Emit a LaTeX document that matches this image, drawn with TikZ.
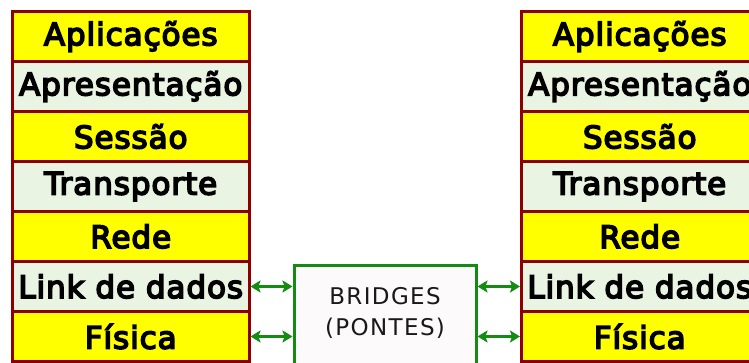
\documentclass[tikz,border=0pt]{standalone}
\usepackage{fontspec}
\setmainfont{DejaVu Sans}
\newfontfamily\layerfont{DejaVu Sans}[FakeBold=5,LetterSpace=3]
\usetikzlibrary{positioning,arrows.meta}

\definecolor{osired}{RGB}{140,0,0}
\definecolor{osiyellow}{RGB}{255,255,0}
\definecolor{osigreen}{RGB}{234,244,226}
\definecolor{bridgegreen}{RGB}{20,140,20}
\definecolor{bridgefill}{RGB}{253,250,252}

\tikzset{
    layer/.style={draw=osired, line width=3pt, outer sep=0pt, inner sep=0pt,
        minimum width=236.5pt, minimum height=50pt,
        font=\fontsize{31}{36}\layerfont},
    ylayer/.style={layer, fill=osiyellow},
    glayer/.style={layer, fill=osigreen},
    bridgebox/.style={draw=bridgegreen, line width=3pt, fill=bridgefill,
        outer sep=0pt, minimum width=182pt, minimum height=110pt},
    bridgetext/.style={align=center, text=black!90,
        font=\fontsize{23}{31}\selectfont\addfontfeature{LetterSpace=6}},
    biarrow/.style={draw=bridgegreen, line width=2.5pt,
        {Stealth[length=10pt,width=12pt,inset=2pt]}-{Stealth[length=10pt,width=12pt,inset=2pt]},
        shorten <=1.5pt, shorten >=1.5pt}
}

\begin{document}
\begin{tikzpicture}[x=1pt,y=1pt]
            \clip (0,0) rectangle (749,363);
            \fill[white] (0,0) rectangle (749,363);

            \node[ylayer] (aplL) at (130.75,326.5) {Aplicações};
            \node[glayer, below=0pt of aplL] (aprL) {Apresentação};
            \node[ylayer, below=0pt of aprL] (sesL) {Sessão};
            \node[glayer, below=0pt of sesL] (traL) {Transporte};
            \node[ylayer, below=0pt of traL] (redL) {Rede};
            \node[glayer, below=0pt of redL] (linkL) {Link de dados};
            \node[ylayer, below=0pt of linkL] (fisL) {Física};

            \node[ylayer, right=272.5pt of aplL] (aplR) {Aplicações};
            \node[glayer, below=0pt of aplR] (aprR) {Apresentação};
            \node[ylayer, below=0pt of aprR] (sesR) {Sessão};
            \node[glayer, below=0pt of sesR] (traR) {Transporte};
            \node[ylayer, below=0pt of traR] (redR) {Rede};
            \node[glayer, below=0pt of redR] (linkR) {Link de dados};
            \node[ylayer, below=0pt of linkR] (fisR) {Física};

            \node[bridgebox] (bridge) at (385,42.5) {};
            \node[bridgetext] (bridgelbl) at ([yshift=8pt]bridge.center) {BRIDGES\\(PONTES)};

            \draw[biarrow] (linkL.east) -- (linkL.east -| bridge.west);
            \draw[biarrow] (fisL.east) -- (fisL.east -| bridge.west);
            \draw[biarrow] (bridge.east |- linkR.west) -- (linkR.west);
            \draw[biarrow] (bridge.east |- fisR.west) -- (fisR.west);
\end{tikzpicture}
\end{document}
